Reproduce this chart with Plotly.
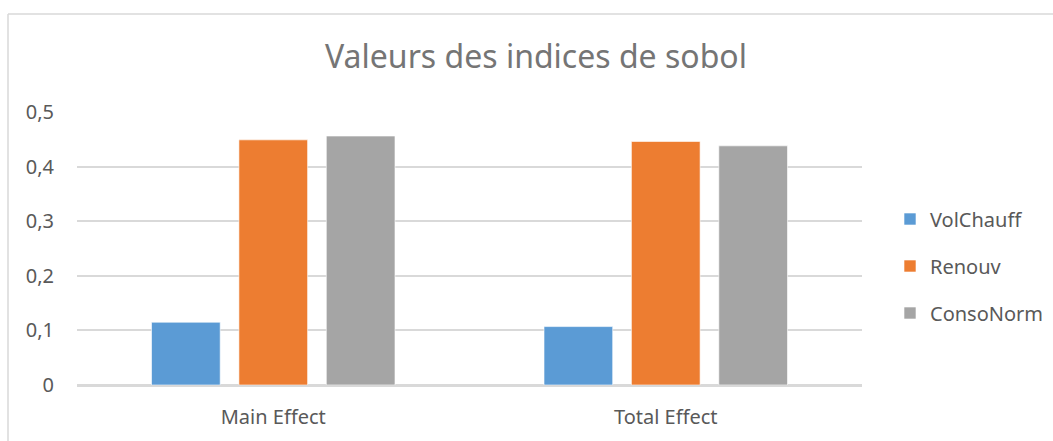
import plotly.graph_objects as go

categories = ["Main Effect", "Total Effect"]
series_names = ["VolChauff", "Renouv", "ConsoNorm"]
volchauff = [0.115, 0.107]
renouv = [0.449, 0.446]
consonorm = [0.456, 0.438]
colors = ["#5B9BD5", "#ED7D31", "#A5A5A5"]
y_ticks = [0, 0.1, 0.2, 0.3, 0.4, 0.5]
y_ticktext = ["0", "0,1", "0,2", "0,3", "0,4", "0,5"]

W, H = 1053, 441
ML, MR, MT, MB = 77, 191, 112, 56
FONT = "Noto Sans"
TXT = "#595959"
FS = 20

fig = go.Figure()
for i, (name, vals) in enumerate(zip(series_names, [volchauff, renouv, consonorm])):
    fig.add_trace(go.Bar(
        x=categories, y=vals, name=name, legendgroup=name,
        marker=dict(color=colors[i], line=dict(color="rgba(255,255,255,0.6)", width=1)),
    ))

pw = W - ML - MR
ph = H - MT - MB
bx = (8 - ML) / pw
by = (H - MB - 14) / ph

fig.update_layout(
    width=W, height=H,
    margin=dict(l=ML, r=MR, t=MT, b=MB, autoexpand=False),
    paper_bgcolor="white", plot_bgcolor="white",
    barmode="group", bargap=0.332, bargroupgap=0.214,
    title=dict(text="Valeurs des indices de sobol", x=536 / W, xanchor="center",
               y=1 - 57 / H, yanchor="middle", xref="container", yref="container",
               font=dict(family=FONT, size=32, color="#757575")),
    font=dict(family=FONT, size=FS, color=TXT),
    showlegend=True,
    legend=dict(x=(890 - ML) / pw, xanchor="left", y=(H - MB - 266) / ph, yanchor="middle",
                traceorder="grouped", tracegroupgap=18, itemwidth=30,
                font=dict(family=FONT, size=FS, color=TXT), bgcolor="rgba(0,0,0,0)"),
    xaxis=dict(showgrid=False, showline=False, ticks="", ticklabelstandoff=18,
               tickfont=dict(family=FONT, size=FS, color=TXT)),
    yaxis=dict(range=[0, 0.5], tickvals=y_ticks, ticktext=y_ticktext,
               showgrid=True, gridcolor="#D9D9D9", gridwidth=1.5,
               zeroline=True, zerolinecolor="#D9D9D9", zerolinewidth=2.5,
               showline=False, ticks="", ticklabelstandoff=22,
               tickfont=dict(family=FONT, size=FS, color=TXT)),
    shapes=[
        dict(type="line", xref="paper", yref="paper", x0=bx, x1=bx, y0=by, y1=-1,
             line=dict(color="#D9D9D9", width=1.5)),
        dict(type="line", xref="paper", yref="paper", x0=bx, x1=2, y0=by, y1=by,
             line=dict(color="#D9D9D9", width=1.5)),
    ],
)

fig.write_html("out.html", config={"displayModeBar": False},
               post_script="document.body.style.margin='0';document.body.style.overflow='hidden';")
